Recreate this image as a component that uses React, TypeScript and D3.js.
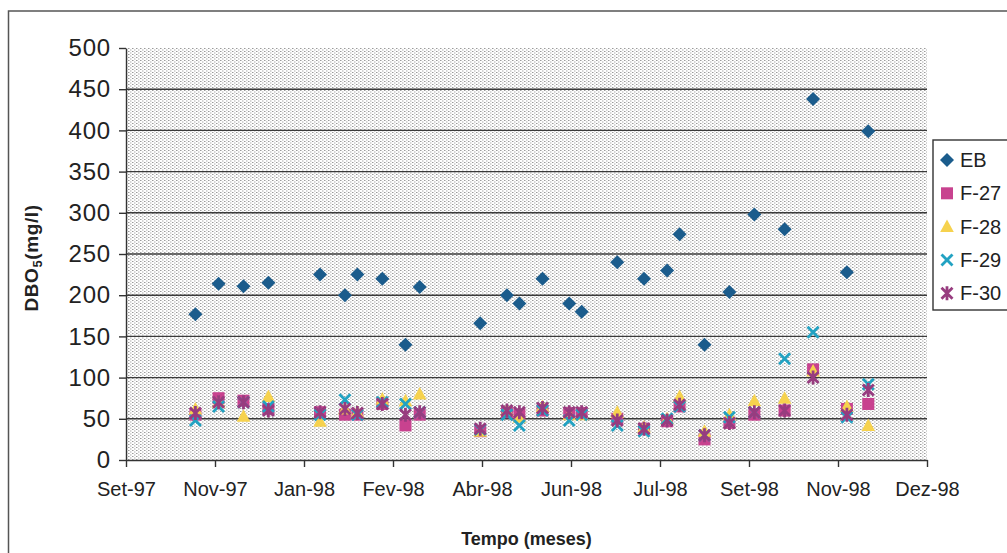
import React, { useEffect, useRef } from "react";
import * as d3 from "d3";

// Sampling dates, in days counted from the first axis mark (30 Sep 1997)
const sampleDays = [39, 52, 66, 80, 109, 123, 130, 144, 157, 165, 199, 214, 221, 234, 249, 256, 276, 291, 304, 311, 325, 339, 353, 370, 386, 405, 417];

// DBO5 (mg/l) per sampling point
const ebValues = [177, 214, 211, 215, 225, 200, 225, 220, 140, 210, 166, 200, 190, 220, 190, 180, 240, 220, 230, 274, 140, 204, 298, 280, 438, 228, 399];
const f27Values = [55, 75, 72, 62, 58, 55, 55, 68, 42, 55, 35, 58, 55, 60, 57, 57, 50, 38, 47, 65, 25, 45, 55, 60, 110, 62, 68];
const f28Values = [62, 70, 53, 77, 47, 62, 58, 74, 72, 80, 35, 60, 52, 65, 55, 55, 58, 40, 50, 77, 35, 55, 72, 75, 108, 65, 42];
const f29Values = [48, 65, 70, 65, 55, 73, 55, 70, 68, 58, 37, 55, 42, 60, 48, 55, 42, 35, 50, 65, 30, 52, 58, 123, 155, 52, 92];
const f30Values = [57, 70, 70, 60, 58, 62, 57, 68, 55, 58, 38, 60, 58, 63, 58, 58, 48, 38, 48, 67, 30, 45, 58, 60, 100, 55, 85];

const seriesNames = ["EB", "F-27", "F-28", "F-29", "F-30"];
const seriesValues = [ebValues, f27Values, f28Values, f29Values, f30Values];

const xTickDays = [0, 50, 100, 150, 200, 250, 300, 350, 400, 450];
const xTickLabels = ["Set-97", "Nov-97", "Jan-98", "Fev-98", "Abr-98", "Jun-98", "Jul-98", "Set-98", "Nov-98", "Dez-98"];
const yTicks = [0, 50, 100, 150, 200, 250, 300, 350, 400, 450, 500];

const W = 1007;
const H = 553;
const FONT = "'Liberation Sans', Arial, Helvetica, sans-serif";

type MarkerKind = "diamond" | "square" | "triangle" | "cross" | "star";
const markerKinds: MarkerKind[] = ["diamond", "square", "triangle", "cross", "star"];
const markerColors = ["#1b5c8c", "#c8428f", "#f6d24e", "#22a2c2", "#973c7f"];

function drawMarker(g: d3.Selection<SVGGElement, unknown, null, undefined>, kind: MarkerKind, color: string) {
  if (kind === "diamond") {
    g.append("path").attr("d", "M0,-7L7,0L0,7L-7,0Z").attr("fill", color);
  } else if (kind === "square") {
    g.append("rect").attr("x", -6).attr("y", -6).attr("width", 12).attr("height", 12).attr("fill", color);
  } else if (kind === "triangle") {
    g.append("path").attr("d", "M0,-7L6.8,5.5L-6.8,5.5Z").attr("fill", color);
  } else if (kind === "cross") {
    g.append("path")
      .attr("d", "M-5.5,-5.5L5.5,5.5M-5.5,5.5L5.5,-5.5")
      .attr("stroke", color)
      .attr("stroke-width", 2.8)
      .attr("fill", "none");
  } else {
    g.append("path")
      .attr("d", "M-5.5,-5.5L5.5,5.5M-5.5,5.5L5.5,-5.5M0,-7L0,7")
      .attr("stroke", color)
      .attr("stroke-width", 2.8)
      .attr("fill", "none");
  }
}

export default function App() {
  const ref = useRef<SVGSVGElement | null>(null);

  useEffect(() => {
    const svg = d3.select(ref.current);
    svg.selectAll("*").remove();

    const x = d3.scaleLinear().domain([0, 450]).range([126, 927]);
    const y = d3.scaleLinear().domain([0, 500]).range([460, 48]);

    // dotted fill of the plot area
    const defs = svg.append("defs");
    const pat = defs
      .append("pattern")
      .attr("id", "dots")
      .attr("patternUnits", "userSpaceOnUse")
      .attr("width", 4)
      .attr("height", 3);
    pat.append("rect").attr("width", 4).attr("height", 3).attr("fill", "#ffffff");
    pat.append("rect").attr("x", 0).attr("y", 0).attr("width", 1.5).attr("height", 1).attr("fill", "#9a9a9a");
    pat.append("rect").attr("x", 2).attr("y", 1.5).attr("width", 1.5).attr("height", 1).attr("fill", "#acacac");

    svg.append("rect").attr("width", W).attr("height", H).attr("fill", "#ffffff");

    // chart frame
    svg
      .append("rect")
      .attr("x", 8.5)
      .attr("y", 11)
      .attr("width", 1010)
      .attr("height", 560)
      .attr("fill", "none")
      .attr("stroke", "#555")
      .attr("stroke-width", 1.5);

    // plot area
    svg
      .append("rect")
      .attr("x", x(0))
      .attr("y", y(500))
      .attr("width", x(450) - x(0))
      .attr("height", y(0) - y(500))
      .attr("fill", "url(#dots)");

    // horizontal gridlines
    svg
      .append("g")
      .selectAll("line")
      .data(yTicks.filter((t) => t > 0 && t < 500))
      .join("line")
      .attr("x1", x(0))
      .attr("x2", x(450))
      .attr("y1", (d) => y(d))
      .attr("y2", (d) => y(d))
      .attr("stroke", "#3a3a3a")
      .attr("stroke-width", 1.4);

    // y axis
    const yAxis = svg
      .append("g")
      .attr("transform", `translate(${x(0)},0)`)
      .call(d3.axisLeft(y).tickValues(yTicks).tickSize(7).tickPadding(8).tickSizeOuter(0));
    yAxis.select(".domain").attr("stroke", "#333").attr("stroke-width", 1.4);
    yAxis.selectAll(".tick line").attr("stroke", "#333").attr("stroke-width", 1.4);
    yAxis
      .selectAll(".tick text")
      .attr("font-family", FONT)
      .attr("font-size", 24)
      .attr("letter-spacing", 0.8)
      .attr("fill", "#222");

    // x axis
    const xAxis = svg
      .append("g")
      .attr("transform", `translate(0,${y(0)})`)
      .call(
        d3
          .axisBottom(x)
          .tickValues(xTickDays)
          .tickFormat((_d, i) => xTickLabels[i])
          .tickSize(7)
          .tickPadding(15)
          .tickSizeOuter(0)
      );
    xAxis.select(".domain").attr("stroke", "#333").attr("stroke-width", 1.4);
    xAxis.selectAll(".tick line").attr("stroke", "#333").attr("stroke-width", 1.4);
    xAxis
      .selectAll(".tick text")
      .attr("font-family", FONT)
      .attr("font-size", 20)
      .attr("fill", "#222");

    // markers
    seriesValues.forEach((vals, si) => {
      const layer = svg.append("g");
      vals.forEach((v, i) => {
        const g = layer.append("g").attr("transform", `translate(${x(sampleDays[i])},${y(v)})`);
        drawMarker(g, markerKinds[si], markerColors[si]);
      });
    });

    // axis titles
    svg
      .append("text")
      .attr("x", (x(0) + x(450)) / 2)
      .attr("y", 545)
      .attr("text-anchor", "middle")
      .attr("font-family", FONT)
      .attr("font-weight", "bold")
      .attr("font-size", 18)
      .attr("fill", "#222")
      .text("Tempo (meses)");

    const yt = svg
      .append("text")
      .attr("transform", "translate(38,258) rotate(-90)")
      .attr("text-anchor", "middle")
      .attr("font-family", FONT)
      .attr("font-weight", "bold")
      .attr("font-size", 19)
      .attr("letter-spacing", 0.6)
      .attr("fill", "#222");
    yt.append("tspan").text("DBO");
    yt.append("tspan").attr("font-size", 13).attr("dy", 4).text("5");
    yt.append("tspan").attr("dy", -4).text("(mg/l)");

    // legend
    const lg = svg.append("g");
    lg.append("rect")
      .attr("x", 933)
      .attr("y", 140)
      .attr("width", 90)
      .attr("height", 170)
      .attr("fill", "#ffffff")
      .attr("stroke", "#333")
      .attr("stroke-width", 1.4);
    seriesNames.forEach((name, i) => {
      const cy = 160 + i * 33.3;
      const g = lg.append("g").attr("transform", `translate(947,${cy})`);
      drawMarker(g, markerKinds[i], markerColors[i]);
      lg.append("text")
        .attr("x", 960)
        .attr("y", cy + 7)
        .attr("font-family", FONT)
        .attr("font-size", 20)
        .attr("fill", "#222")
        .text(name);
    });
  }, []);

  return (
    <svg
      ref={ref}
      width={W}
      height={H}
      style={{ position: "absolute", left: 0, top: 0, display: "block" }}
    />
  );
}
